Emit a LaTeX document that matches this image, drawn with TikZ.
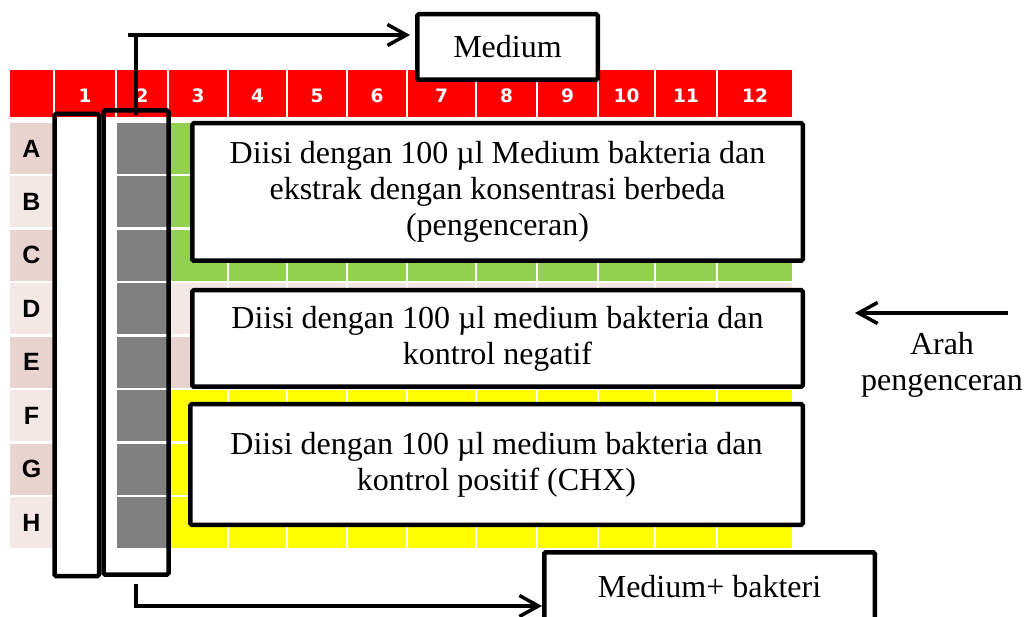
\documentclass[tikz,border=0pt]{standalone}
\usepackage{fontspec}
\setmainfont{Liberation Serif}
\newfontfamily\digitfont{DejaVu Sans}
\newfontfamily\rowfont{Liberation Sans}
\usetikzlibrary{arrows.meta}

\definecolor{hdrred}{HTML}{FF0000}
\definecolor{wellgreen}{HTML}{92D050}
\definecolor{wellyellow}{HTML}{FFFF00}
\definecolor{wellgray}{HTML}{808080}
\definecolor{pinkdark}{HTML}{E8D3CF}
\definecolor{pinklight}{HTML}{F3E8E6}

\begin{document}
\begin{tikzpicture}[x=1pt,y=-1pt,
  hdrnum/.style={inner sep=0pt, text=white, font=\digitfont\bfseries\fontsize{18.5}{20}\selectfont},
  rowlab/.style={inner sep=0pt, text=black, font=\rowfont\bfseries\fontsize{25}{27}\selectfont},
  tbox/.style={draw, line width=4.5pt, fill=white, inner sep=0pt, align=center,
    rounded corners=1.5pt, font=\fontsize{32}{36}\selectfont},
  colbox/.style={draw, line width=4.5pt, inner sep=0pt, rounded corners=1.5pt},
  conn/.style={line width=3.5pt},
  arr/.style={conn, -{Straight Barb[length=19pt,width=21pt]}},
  note/.style={inner sep=0pt, align=center, font=\fontsize{32}{36}\selectfont}]
\useasboundingbox (0,0) rectangle (1026,617);
\clip (0,0) rectangle (1026,617);

% header row with column numbers
\fill[hdrred] (10,70) rectangle (53,117);
\foreach \xa/\xb [count=\c] in {55/115,117/167,169/227,229/286,288/346,348/406,408/475,477/536,538/597,599/654,656/716,718/792} {
  \fill[hdrred] (\xa,70) rectangle (\xb,117);
  \node[hdrnum] (h\c) at ({(\xa+\xb)/2},95.5) {\c};
}

% rows A-H: label cell, gray column 2, coloured wells in columns 3-12
\foreach \r/\lc/\wc [count=\k] in {A/pinkdark/wellgreen,B/pinklight/wellgreen,C/pinkdark/wellgreen,
    D/pinklight/pinklight,E/pinkdark/pinkdark,F/pinklight/wellyellow,G/pinkdark/wellyellow,H/pinklight/wellyellow} {
  \pgfmathsetmacro\yt{123+53.43*(\k-1)}
  \pgfmathsetmacro\yb{\yt+51}
  \fill[\lc] (10,\yt) rectangle (53,\yb);
  \node[rowlab] (r\r) at (31.5,{(\yt+\yb)/2}) {\r};
  \fill[wellgray] (117,\yt) rectangle (167,\yb);
  \foreach \xa/\xb in {169/227,229/286,288/346,348/406,408/475,477/536,538/597,599/654,656/716,718/792}
    \fill[\wc] (\xa,\yt) rectangle (\xb,\yb);
}

% outlines around columns 1 and 2
\node[colbox, minimum width=44.5pt, minimum height=462pt] (colone) at (76.75,345) {};
\node[colbox, minimum width=65pt, minimum height=464pt] (coltwo) at (136,342.5) {};

% text boxes
\node[tbox, minimum width=180.5pt, minimum height=65.5pt] (medium) at (507.5,47) {Medium};
\node[tbox, minimum width=610.5pt, minimum height=137.5pt] (extract) at (497.5,192)
  {Diisi dengan 100 µl Medium bakteria dan\\ekstrak dengan konsentrasi berbeda\\(pengenceran)};
\node[tbox, minimum width=610.5pt, minimum height=96.5pt] (negative) at (497.5,338.5)
  {Diisi dengan 100 µl medium bakteria dan\\kontrol negatif};
\node[tbox, minimum width=612.5pt, minimum height=120.5pt] (positive) at (496.5,464.5)
  {Diisi dengan 100 µl medium bakteria dan\\kontrol positif (CHX)};
\node[tbox, minimum width=330.5pt, minimum height=69.5pt] (mediumbact) at (709.5,587) {Medium+ bakteri};

% connector from column 2 up to the medium box
\coordinate (topfoot) at ([yshift=-7pt]coltwo.north);
\coordinate (topjoin) at (136,35);
\coordinate (topleft) at (128,35);
\draw[conn] (topfoot) -- (topjoin);
\draw[arr, shorten >=5pt] (topleft) -- (topleft -| medium.west);

% connector from column 2 down to the medium + bacteria box
\coordinate (botfoot) at ([yshift=-7pt]coltwo.south);
\coordinate (botjoin) at (136,606);
\draw[arr] (botfoot) -- (botjoin) -- (botjoin -| mediumbact.west);

% dilution direction
\coordinate (dirstart) at (1008,313);
\coordinate (dirend) at (855,313);
\draw[arr] (dirstart) -- (dirend);
\node[note] (dirlabel) at (942,364.5) {Arah\\pengenceran};
\end{tikzpicture}
\end{document}
